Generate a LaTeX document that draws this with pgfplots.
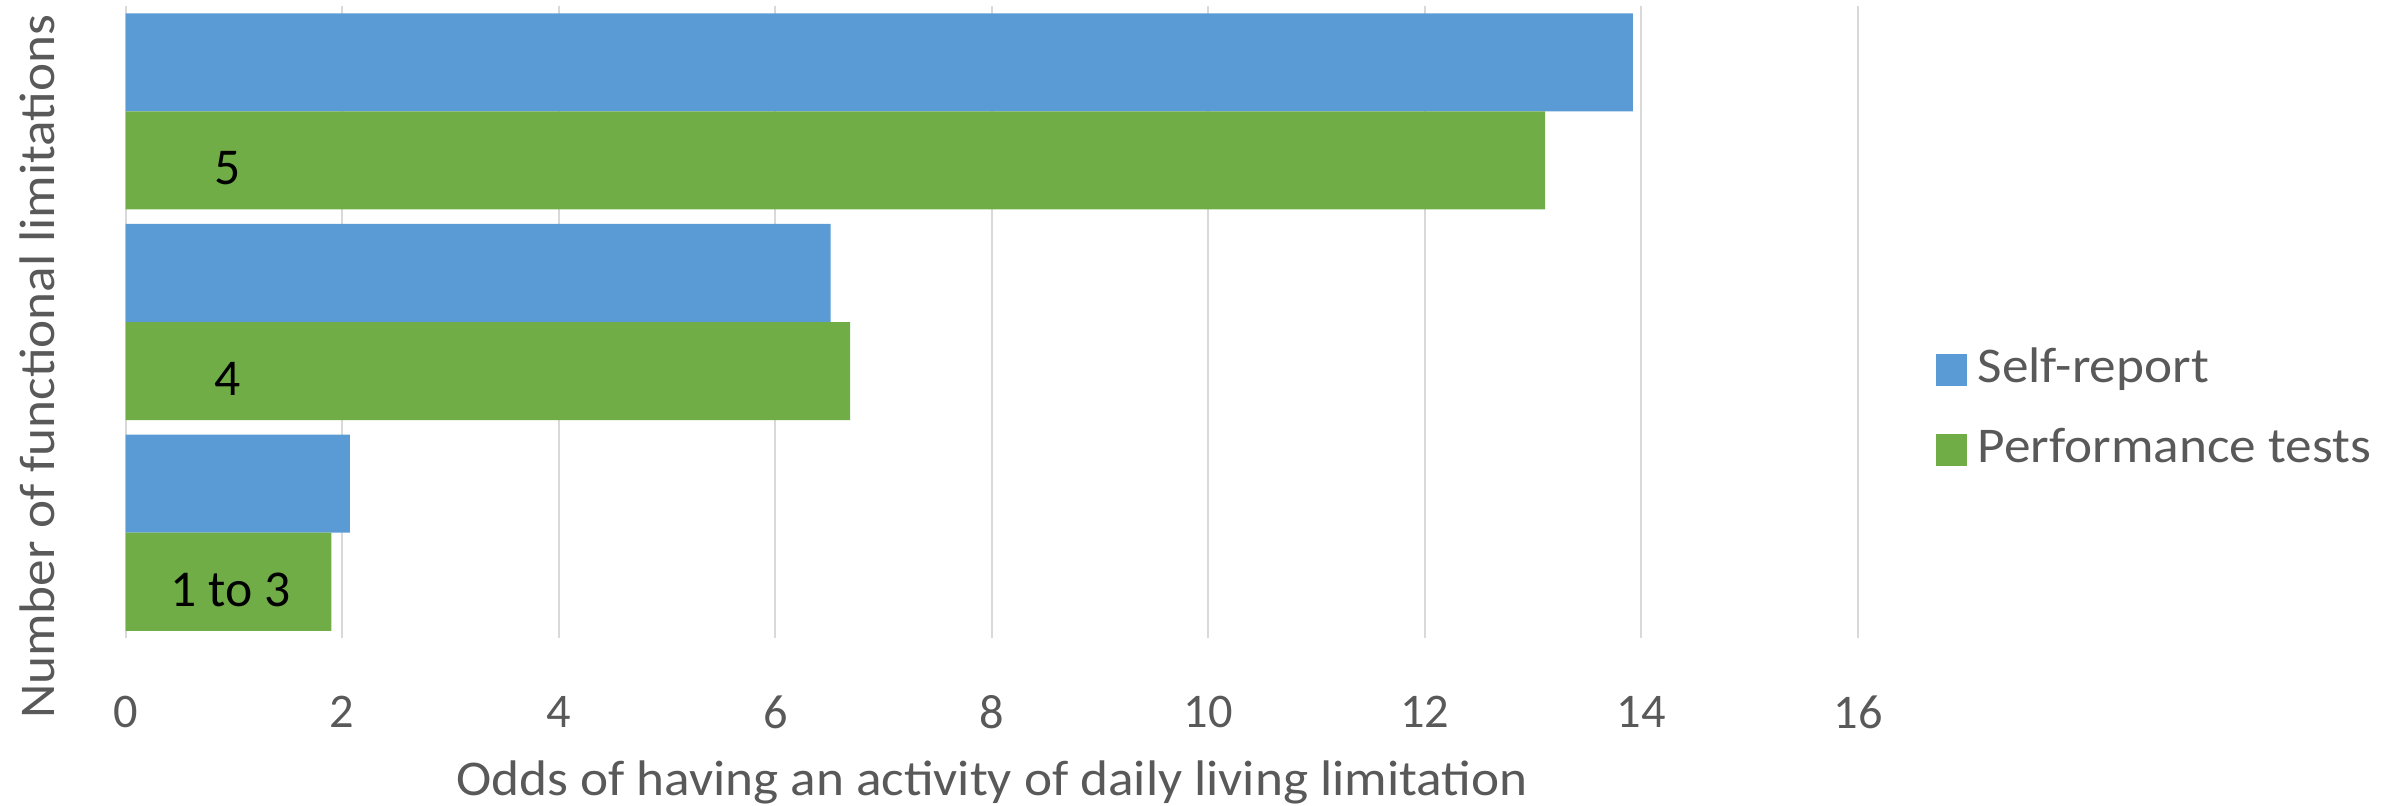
\documentclass[border=0pt]{standalone}
\usepackage{pgfplots}
\pgfplotsset{compat=1.18}
\usepackage{fontspec}
\setmainfont{Carlito}
\newfontfamily\wfont{Carlito}[FakeStretch=1.065]
\definecolor{sr}{HTML}{5B9BD5}
\definecolor{pt}{HTML}{70AD47}
\definecolor{txt}{HTML}{595959}
\definecolor{grd}{HTML}{D9D9D9}
\begin{document}
\begin{tikzpicture}
\useasboundingbox (0,0) rectangle (720.6pt,241.5pt);
\begin{axis}[
  at={(37.7pt,50.1pt)}, anchor=south west,
  width=519.7pt, height=189.6pt, scale only axis,
  xmin=0, xmax=16, ymin=-0.5, ymax=2.5,
  xtick={0,2,...,16}, ytick=\empty,
  xmajorgrids, grid style={grd, line width=0.6pt},
  axis line style={draw=none},
  major tick length=0pt,
  xticklabel style={font=\fontsize{14.5}{17}\selectfont, text=txt, anchor=center, yshift=-22.2pt},
  /pgf/number format/assume math mode=true,
  legend style={at={(1.0445,0.361)}, anchor=west, draw=none, fill=none, inner sep=0pt,
    font=\wfont\fontsize{15}{18}\selectfont, text=txt, row sep=7.5pt, column sep=2.2pt,
    nodes={text height=11pt, text depth=3.5pt, inner sep=1pt}},
  legend cell align=left,
  clip=false,
]
\addplot[xbar, bar width=0.4656, fill=sr, draw=none, bar shift=0.2328, forget plot] coordinates {(13.92,2) (6.51,1) (2.07,0)};
\addplot[xbar, bar width=0.4656, fill=pt, draw=none, bar shift=-0.2328, forget plot] coordinates {(13.11,2) (6.69,1) (1.90,0)};
\addlegendimage{legend image code/.code={\fill[sr] (0pt,-4.5pt) rectangle (9pt,4.5pt);}}
\addlegendentry{Self-report}
\addlegendimage{legend image code/.code={\fill[pt] (0pt,-4.5pt) rectangle (9pt,4.5pt);}}
\addlegendentry{Performance tests}
\node[font=\fontsize{15.5}{18}\selectfont] at (axis cs:0.94,1.73) {5};
\node[font=\fontsize{15.5}{18}\selectfont] at (axis cs:0.94,0.73) {4};
\node[font=\fontsize{15.5}{18}\selectfont] at (axis cs:0.97,-0.27) {1 to 3};
\end{axis}
\node[rotate=90, anchor=base, text=txt, font=\wfont\fontsize{15}{18}\selectfont] at (16.2pt,131.5pt) {Number of functional limitations};
\node[anchor=base, text=txt, font=\wfont\fontsize{15}{18}\selectfont] at (297.6pt,3pt) {Odds of having an activity of daily living limitation};
\end{tikzpicture}
\end{document}
